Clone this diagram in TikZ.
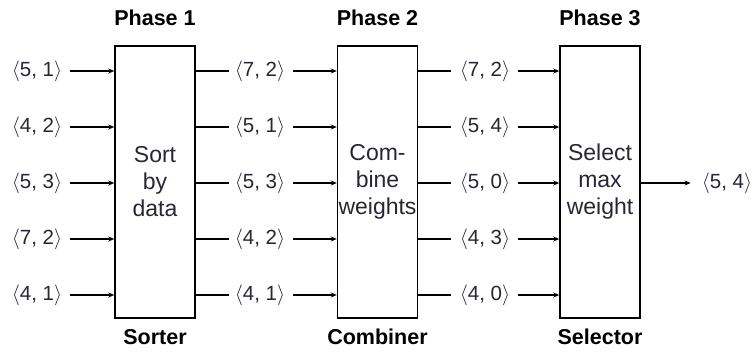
\documentclass[tikz,border=0pt]{standalone}
\usepackage{fontspec}
\setmainfont{Liberation Sans}
\usetikzlibrary{arrows.meta}
\definecolor{txt}{HTML}{262636}
\tikzset{
  box/.style={draw, line width=1.5pt, minimum width=80pt, minimum height=272pt, inner sep=0pt, align=center, font=\fontsize{23}{27}\selectfont, text=txt},
  lab/.style={font=\fontsize{20.5}{22}\selectfont, text=txt, inner sep=1pt},
  ttl/.style={font=\fontsize{21.5}{23}\selectfont\bfseries},
  wire/.style={line width=1.3pt},
  arr/.style={wire, -{Stealth[length=6pt,width=5pt]}}
}
\newcommand{\pr}[2]{$\langle$#1, #2$\rangle$}
\begin{document}
\begin{tikzpicture}[x=1pt,y=-1pt]
\useasboundingbox (0,0) rectangle (755,353);
\node[box] (b1) at (155,182) {Sort\\by\\data};
\node[box] (b2) at (377.5,182) {Com-\\bine\\weights};
\node[box] (b3) at (600,182) {Select\\max\\weight};
\node[ttl] (t1) at (155,17.5) {Phase 1};
\node[ttl] (t2) at (377.5,17.5) {Phase 2};
\node[ttl] (t3) at (600,17.5) {Phase 3};
\node[ttl] (s1) at (155,337) {Sorter};
\node[ttl] (s2) at (377.5,337) {Combiner};
\node[ttl] (s3) at (600,337) {Selector};
\foreach \i/\y/\a/\b/\c/\d/\e/\f in {1/71/5/1/7/2/7/2, 2/127/4/2/5/1/5/4, 3/183/5/3/5/3/5/0, 4/239/7/2/4/2/4/3, 5/295/4/1/4/1/4/0}{
  \node[lab] (l\i) at (37,\y) {\pr{\a}{\b}};
  \node[lab] (m\i) at (260,\y) {\pr{\c}{\d}};
  \node[lab] (n\i) at (485,\y) {\pr{\e}{\f}};
  \coordinate (bl\i) at (b1.west |- 0,\y);
  \coordinate (br\i) at (b1.east |- 0,\y);
  \coordinate (cl\i) at (b2.west |- 0,\y);
  \coordinate (cr\i) at (b2.east |- 0,\y);
  \coordinate (dl\i) at (b3.west |- 0,\y);
  \draw[arr] (l\i.east) ++(7,0) -- (bl\i);
  \draw[wire] (br\i) -- ++(33,0);
  \draw[arr] (m\i.east) ++(7,0) -- (cl\i);
  \draw[wire] (cr\i) -- ++(33,0);
  \draw[arr] (n\i.east) ++(7,0) -- (dl\i);
}
\node[lab] (out) at (727,183) {\pr{5}{4}};
\coordinate (o) at (b3.east |- out);
\draw[arr] (o) -- ([xshift=-10pt]out.west);
\end{tikzpicture}
\end{document}
